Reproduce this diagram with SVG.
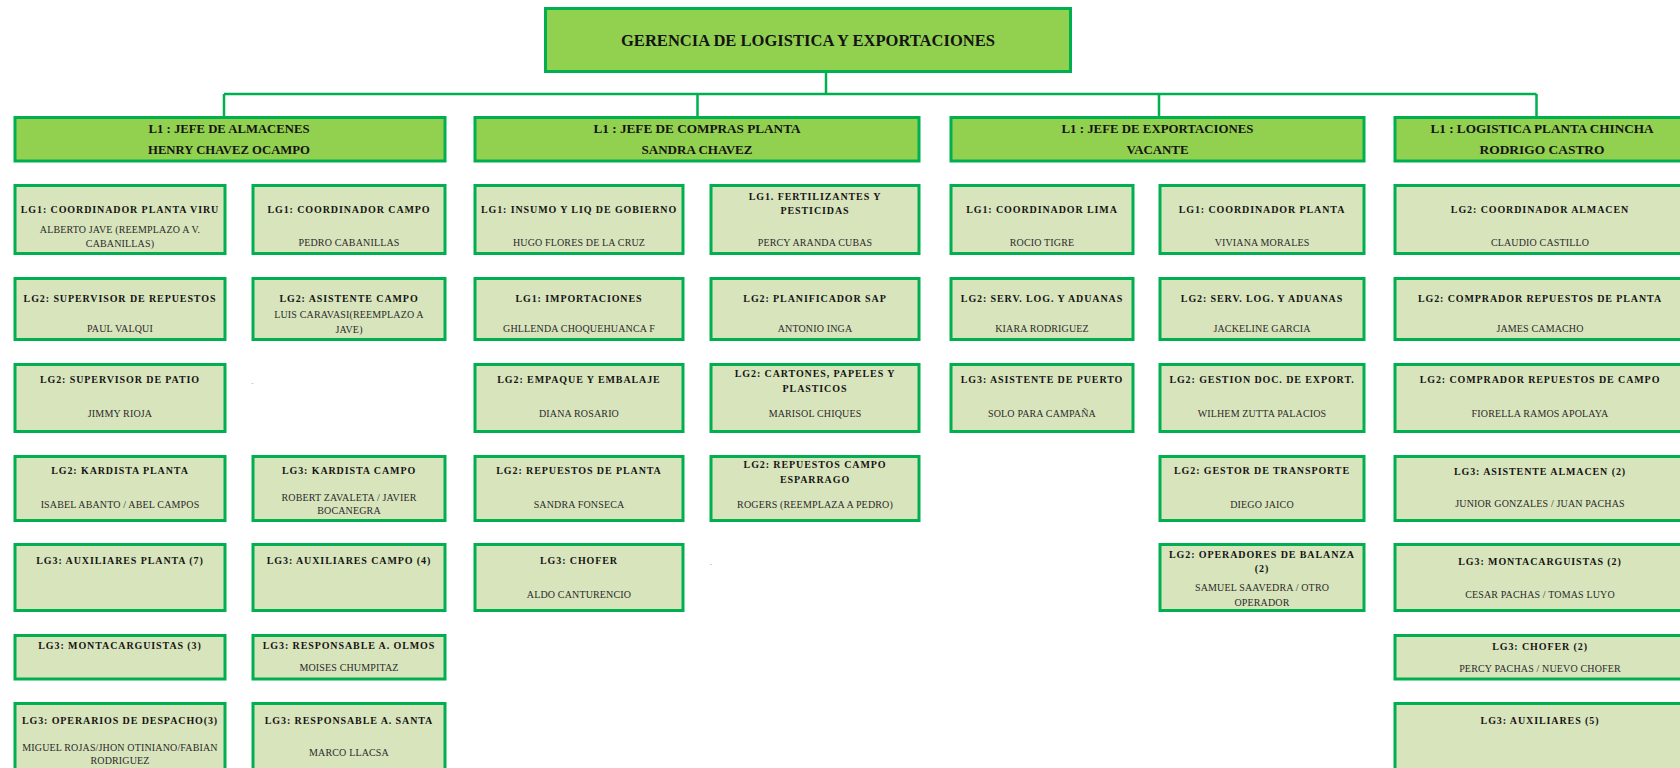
<svg xmlns="http://www.w3.org/2000/svg" width="1680" height="768" viewBox="0 0 1680 768">
  <style>
    .top { fill: #92D050; stroke: #00B050; stroke-width: 3; }
    .l1 { fill: #92D050; stroke: #00B050; stroke-width: 3; }
    .box { fill: #D8E4BC; stroke: #00B050; stroke-width: 3; }
    .link { fill: none; stroke: #00B050; stroke-width: 2.5; }
    .h0 { font-family: "Liberation Serif", "Times New Roman", serif; font-weight: bold; font-size: 17px; fill: #141414; text-anchor: middle; }
    .h1 { font-family: "Liberation Serif", "Times New Roman", serif; font-weight: bold; font-size: 13.5px; fill: #141414; text-anchor: middle; }
    .t { font-family: "Liberation Serif", "Times New Roman", serif; font-weight: bold; font-size: 10px; letter-spacing: 0.9px; fill: #141414; text-anchor: middle; }
    .n { font-family: "Liberation Serif", "Times New Roman", serif; font-size: 10px; letter-spacing: 0.15px; fill: #2a2a2a; text-anchor: middle; }
    .speck { fill: #cfcfcf; }
  </style>

  <rect width="1680" height="768" fill="#ffffff"/>

  <!-- connectors -->
  <g id="connectors">
    <path class="link" d="M826,73 V94"/>
    <path class="link" d="M224,94 H1536.5"/>
    <path class="link" d="M224,94 V116 M697.5,94 V116 M1159,94 V116 M1536.5,94 V116"/>
  </g>

  <!-- head -->
  <g id="gerencia">
    <rect class="top" x="545.5" y="8.5" width="525" height="63"/>
    <text class="h0" x="808" y="46" textLength="374" lengthAdjust="spacingAndGlyphs">GERENCIA DE LOGISTICA Y EXPORTACIONES</text>
  </g>

  <!-- level 1 -->
  <g id="jefe-almacenes">
    <rect class="l1" x="15" y="117.5" width="430" height="43.5"/>
    <text class="h1" x="229" y="133.3" textLength="161" lengthAdjust="spacingAndGlyphs">L1 : JEFE DE ALMACENES</text>
    <text class="h1" x="229" y="154.3" textLength="162" lengthAdjust="spacingAndGlyphs">HENRY CHAVEZ OCAMPO</text>
  </g>
  <g id="jefe-compras">
    <rect class="l1" x="475" y="117.5" width="444" height="43.5"/>
    <text class="h1" x="697" y="133.3" textLength="207" lengthAdjust="spacingAndGlyphs">L1 : JEFE DE COMPRAS PLANTA</text>
    <text class="h1" x="697" y="154.3" textLength="111" lengthAdjust="spacingAndGlyphs">SANDRA CHAVEZ</text>
  </g>
  <g id="jefe-exportaciones">
    <rect class="l1" x="951" y="117.5" width="413" height="43.5"/>
    <text class="h1" x="1157.5" y="133.3" textLength="192" lengthAdjust="spacingAndGlyphs">L1 : JEFE DE EXPORTACIONES</text>
    <text class="h1" x="1157.5" y="154.3" textLength="62" lengthAdjust="spacingAndGlyphs">VACANTE</text>
  </g>
  <g id="logistica-chincha">
    <rect class="l1" x="1395" y="117.5" width="295" height="43.5"/>
    <text class="h1" x="1542" y="133.3" textLength="223" lengthAdjust="spacingAndGlyphs">L1 : LOGISTICA PLANTA CHINCHA</text>
    <text class="h1" x="1542" y="154.3" textLength="125" lengthAdjust="spacingAndGlyphs">RODRIGO CASTRO</text>
  </g>

  <!-- almacenes, column A -->
  <g id="coord-planta-viru">
    <rect class="box" x="15" y="185.5" width="210" height="68"/>
    <text class="t" x="120" y="213">LG1: COORDINADOR PLANTA VIRU</text>
    <text class="n" x="120" y="233">ALBERTO JAVE (REEMPLAZO A V.</text>
    <text class="n" x="120" y="246.5">CABANILLAS)</text>
  </g>
  <g id="sup-repuestos">
    <rect class="box" x="15" y="278.5" width="210" height="61"/>
    <text class="t" x="120" y="302">LG2: SUPERVISOR DE REPUESTOS</text>
    <text class="n" x="120" y="331.5">PAUL VALQUI</text>
  </g>
  <g id="sup-patio">
    <rect class="box" x="15" y="364.5" width="210" height="67"/>
    <text class="t" x="120" y="383.3">LG2: SUPERVISOR DE PATIO</text>
    <text class="n" x="120" y="417.3">JIMMY RIOJA</text>
  </g>
  <g id="kardista-planta">
    <rect class="box" x="15" y="456.5" width="210" height="64"/>
    <text class="t" x="120" y="474.3">LG2: KARDISTA PLANTA</text>
    <text class="n" x="120" y="507.5">ISABEL ABANTO / ABEL CAMPOS</text>
  </g>
  <g id="aux-planta">
    <rect class="box" x="15" y="544.5" width="210" height="66"/>
    <text class="t" x="120" y="564.3">LG3: AUXILIARES PLANTA (7)</text>
  </g>
  <g id="montacarguistas-3">
    <rect class="box" x="15" y="635.5" width="210" height="43.5"/>
    <text class="t" x="120" y="649.3">LG3: MONTACARGUISTAS (3)</text>
  </g>
  <g id="operarios-despacho">
    <rect class="box" x="15" y="703.5" width="210" height="80"/>
    <text class="t" x="120" y="723.7">LG3: OPERARIOS DE DESPACHO(3)</text>
    <text class="n" x="120" y="750.7">MIGUEL ROJAS/JHON OTINIANO/FABIAN</text>
    <text class="n" x="120" y="764.3">RODRIGUEZ</text>
  </g>

  <!-- almacenes, column B -->
  <g id="coord-campo">
    <rect class="box" x="253" y="185.5" width="192" height="68"/>
    <text class="t" x="349" y="213">LG1: COORDINADOR CAMPO</text>
    <text class="n" x="349" y="245.5">PEDRO CABANILLAS</text>
  </g>
  <g id="asistente-campo">
    <rect class="box" x="253" y="278.5" width="192" height="61"/>
    <text class="t" x="349" y="302">LG2: ASISTENTE CAMPO</text>
    <text class="n" x="349" y="318.3">LUIS CARAVASI(REEMPLAZO A</text>
    <text class="n" x="349" y="333">JAVE)</text>
  </g>
  <rect class="speck" x="251.5" y="383" width="2" height="1"/>
  <g id="kardista-campo">
    <rect class="box" x="253" y="456.5" width="192" height="64"/>
    <text class="t" x="349" y="474.3">LG3: KARDISTA CAMPO</text>
    <text class="n" x="349" y="500.5">ROBERT ZAVALETA / JAVIER</text>
    <text class="n" x="349" y="514">BOCANEGRA</text>
  </g>
  <g id="aux-campo">
    <rect class="box" x="253" y="544.5" width="192" height="66"/>
    <text class="t" x="349" y="564.3">LG3: AUXILIARES CAMPO (4)</text>
  </g>
  <g id="resp-olmos">
    <rect class="box" x="253" y="635.5" width="192" height="43.5"/>
    <text class="t" x="349" y="649.3">LG3: RESPONSABLE A. OLMOS</text>
    <text class="n" x="349" y="671">MOISES CHUMPITAZ</text>
  </g>
  <g id="resp-santa">
    <rect class="box" x="253" y="703.5" width="192" height="80"/>
    <text class="t" x="349" y="723.7">LG3: RESPONSABLE A. SANTA</text>
    <text class="n" x="349" y="756.3">MARCO LLACSA</text>
  </g>

  <!-- compras, column C -->
  <g id="insumo-liq">
    <rect class="box" x="475" y="185.5" width="208" height="68"/>
    <text class="t" x="579" y="213">LG1: INSUMO Y LIQ DE GOBIERNO</text>
    <text class="n" x="579" y="245.5">HUGO FLORES DE LA CRUZ</text>
  </g>
  <g id="importaciones">
    <rect class="box" x="475" y="278.5" width="208" height="61"/>
    <text class="t" x="579" y="302">LG1: IMPORTACIONES</text>
    <text class="n" x="579" y="331.5">GHLLENDA CHOQUEHUANCA F</text>
  </g>
  <g id="empaque">
    <rect class="box" x="475" y="364.5" width="208" height="67"/>
    <text class="t" x="579" y="383.3">LG2: EMPAQUE Y EMBALAJE</text>
    <text class="n" x="579" y="417.3">DIANA ROSARIO</text>
  </g>
  <g id="repuestos-planta">
    <rect class="box" x="475" y="456.5" width="208" height="64"/>
    <text class="t" x="579" y="474.3">LG2: REPUESTOS DE PLANTA</text>
    <text class="n" x="579" y="507.5">SANDRA FONSECA</text>
  </g>
  <g id="chofer-compras">
    <rect class="box" x="475" y="544.5" width="208" height="66"/>
    <text class="t" x="579" y="564.3">LG3: CHOFER</text>
    <text class="n" x="579" y="597.5">ALDO CANTURENCIO</text>
  </g>

  <!-- compras, column D -->
  <g id="fertilizantes">
    <rect class="box" x="711" y="185.5" width="208" height="68"/>
    <text class="t" x="815" y="200">LG1. FERTILIZANTES Y</text>
    <text class="t" x="815" y="214">PESTICIDAS</text>
    <text class="n" x="815" y="245.5">PERCY ARANDA CUBAS</text>
  </g>
  <g id="planificador-sap">
    <rect class="box" x="711" y="278.5" width="208" height="61"/>
    <text class="t" x="815" y="302">LG2: PLANIFICADOR SAP</text>
    <text class="n" x="815" y="331.5">ANTONIO INGA</text>
  </g>
  <g id="cartones">
    <rect class="box" x="711" y="364.5" width="208" height="67"/>
    <text class="t" x="815" y="376.5">LG2: CARTONES, PAPELES Y</text>
    <text class="t" x="815" y="391.5">PLASTICOS</text>
    <text class="n" x="815" y="417.3">MARISOL CHIQUES</text>
  </g>
  <g id="repuestos-campo">
    <rect class="box" x="711" y="456.5" width="208" height="64"/>
    <text class="t" x="815" y="468.3">LG2: REPUESTOS CAMPO</text>
    <text class="t" x="815" y="482.5">ESPARRAGO</text>
    <text class="n" x="815" y="507.5">ROGERS (REEMPLAZA A PEDRO)</text>
  </g>
  <rect class="speck" x="710" y="564" width="2" height="1"/>

  <!-- exportaciones, column E -->
  <g id="coord-lima">
    <rect class="box" x="951" y="185.5" width="182" height="68"/>
    <text class="t" x="1042" y="213">LG1: COORDINADOR LIMA</text>
    <text class="n" x="1042" y="245.5">ROCIO TIGRE</text>
  </g>
  <g id="serv-log-lima">
    <rect class="box" x="951" y="278.5" width="182" height="61"/>
    <text class="t" x="1042" y="302">LG2: SERV. LOG. Y ADUANAS</text>
    <text class="n" x="1042" y="331.5">KIARA RODRIGUEZ</text>
  </g>
  <g id="asistente-puerto">
    <rect class="box" x="951" y="364.5" width="182" height="67"/>
    <text class="t" x="1042" y="383.3">LG3: ASISTENTE DE PUERTO</text>
    <text class="n" x="1042" y="417.3">SOLO PARA CAMPAÑA</text>
  </g>

  <!-- exportaciones, column F -->
  <g id="coord-planta">
    <rect class="box" x="1160" y="185.5" width="204" height="68"/>
    <text class="t" x="1262" y="213">LG1: COORDINADOR PLANTA</text>
    <text class="n" x="1262" y="245.5">VIVIANA MORALES</text>
  </g>
  <g id="serv-log-planta">
    <rect class="box" x="1160" y="278.5" width="204" height="61"/>
    <text class="t" x="1262" y="302">LG2: SERV. LOG. Y ADUANAS</text>
    <text class="n" x="1262" y="331.5">JACKELINE GARCIA</text>
  </g>
  <g id="gestion-doc">
    <rect class="box" x="1160" y="364.5" width="204" height="67"/>
    <text class="t" x="1262" y="383.3">LG2: GESTION DOC. DE EXPORT.</text>
    <text class="n" x="1262" y="417.3">WILHEM ZUTTA PALACIOS</text>
  </g>
  <g id="gestor-transporte">
    <rect class="box" x="1160" y="456.5" width="204" height="64"/>
    <text class="t" x="1262" y="474.3">LG2: GESTOR DE TRANSPORTE</text>
    <text class="n" x="1262" y="507.5">DIEGO JAICO</text>
  </g>
  <g id="operadores-balanza">
    <rect class="box" x="1160" y="544.5" width="204" height="66"/>
    <text class="t" x="1262" y="557.7">LG2: OPERADORES DE BALANZA</text>
    <text class="t" x="1262" y="571.5">(2)</text>
    <text class="n" x="1262" y="591">SAMUEL SAAVEDRA / OTRO</text>
    <text class="n" x="1262" y="606">OPERADOR</text>
  </g>

  <!-- chincha, column G -->
  <g id="coord-almacen">
    <rect class="box" x="1395" y="185.5" width="290" height="68"/>
    <text class="t" x="1540" y="213">LG2: COORDINADOR ALMACEN</text>
    <text class="n" x="1540" y="245.5">CLAUDIO CASTILLO</text>
  </g>
  <g id="comprador-planta">
    <rect class="box" x="1395" y="278.5" width="290" height="61"/>
    <text class="t" x="1540" y="302">LG2: COMPRADOR REPUESTOS DE PLANTA</text>
    <text class="n" x="1540" y="331.5">JAMES CAMACHO</text>
  </g>
  <g id="comprador-campo">
    <rect class="box" x="1395" y="364.5" width="290" height="67"/>
    <text class="t" x="1540" y="383.3">LG2: COMPRADOR REPUESTOS DE CAMPO</text>
    <text class="n" x="1540" y="417.3">FIORELLA RAMOS APOLAYA</text>
  </g>
  <g id="asistente-almacen">
    <rect class="box" x="1395" y="456.5" width="290" height="64"/>
    <text class="t" x="1540" y="475">LG3: ASISTENTE ALMACEN (2)</text>
    <text class="n" x="1540" y="507.3">JUNIOR GONZALES / JUAN PACHAS</text>
  </g>
  <g id="montacarguistas-2">
    <rect class="box" x="1395" y="544.5" width="290" height="66"/>
    <text class="t" x="1540" y="565">LG3: MONTACARGUISTAS (2)</text>
    <text class="n" x="1540" y="597.5">CESAR PACHAS / TOMAS LUYO</text>
  </g>
  <g id="chofer-chincha">
    <rect class="box" x="1395" y="635.5" width="290" height="43.5"/>
    <text class="t" x="1540" y="650">LG3: CHOFER (2)</text>
    <text class="n" x="1540" y="672">PERCY PACHAS / NUEVO CHOFER</text>
  </g>
  <g id="auxiliares-chincha">
    <rect class="box" x="1395" y="703.5" width="290" height="80"/>
    <text class="t" x="1540" y="724">LG3: AUXILIARES (5)</text>
  </g>
</svg>
